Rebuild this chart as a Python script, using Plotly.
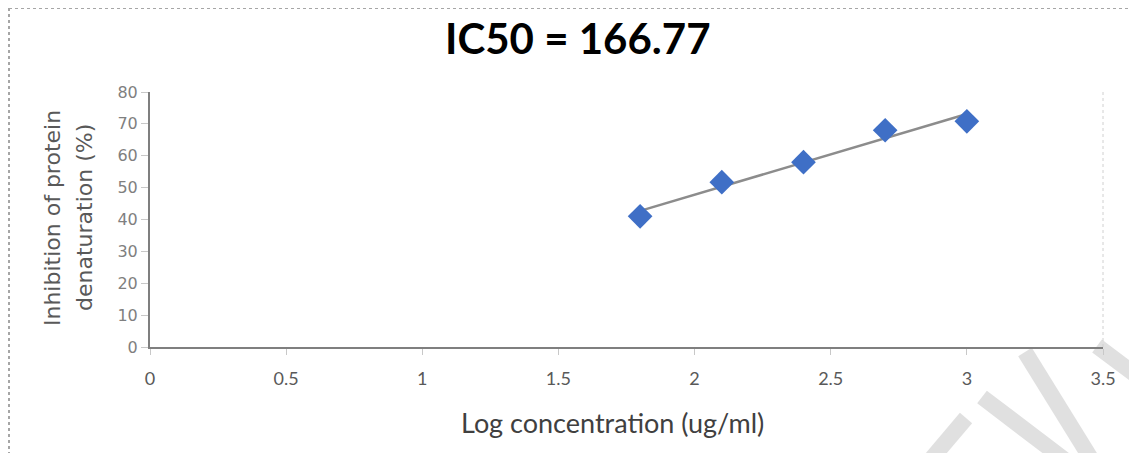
import numpy as np
import plotly.graph_objects as go

# ---- data ----
log_conc = [1.8, 2.1, 2.4, 2.7, 3.0]
inhibition = [41.0, 51.7, 58.0, 68.0, 70.8]
x_ticks = [0, 0.5, 1, 1.5, 2, 2.5, 3, 3.5]
x_tick_labels = ["0", "0.5", "1", "1.5", "2", "2.5", "3", "3.5"]
y_ticks = [0, 10, 20, 30, 40, 50, 60, 70, 80]
title_text = "IC50 = 166.77"
x_title = "Log concentration (ug/ml)"
y_title_lines = ["Inhibition of protein", "denaturation (%)"]

# linear trend line
slope, intercept = np.polyfit(log_conc, inhibition, 1)
trend_x = [min(log_conc), max(log_conc)]
trend_y = [slope * v + intercept for v in trend_x]

# page geometry (the page body adds an 8px margin around the figure)
OFF = 8
PW, PH = 1137, 461
L, R, T, B = 150, 1103, 92, 347  # plot area in page pixels
FW, FH = PW - 2 * OFF, PH - 2 * OFF


def px(x):
    return (x - L) / (R - L)


def py(y):
    return (B - y) / (B - T)


fig = go.Figure()
fig.add_trace(go.Scatter(x=trend_x, y=trend_y, mode="lines",
                         line=dict(color="#8c8c8c", width=2.5),
                         showlegend=False, hoverinfo="skip"))
fig.add_trace(go.Scatter(x=log_conc, y=inhibition, mode="markers",
                         marker=dict(symbol="diamond", size=19, color="#3f6fc6",
                                     line=dict(width=0)),
                         showlegend=False))

shapes = []
# outer chart border (dotted)
shapes.append(dict(type="line", xref="paper", yref="paper",
                   x0=px(9), x1=px(PW + 5), y0=py(8), y1=py(8),
                   line=dict(color="#a6a6a6", width=2, dash="dot")))
shapes.append(dict(type="line", xref="paper", yref="paper",
                   x0=px(9), x1=px(9), y0=py(8), y1=py(PH + 5),
                   line=dict(color="#a6a6a6", width=2, dash="dot")))
# plot area right border
shapes.append(dict(type="line", xref="paper", yref="paper",
                   x0=1, x1=1, y0=0, y1=1,
                   line=dict(color="#d0d0d0", width=1, dash="dot")))
# watermark stripes
stripes = [
    ((1025, 352), (1098, 470)),
    ((982, 397), (1078, 470)),
    ((1097, 346), (1145, 382)),
    ((966, 418), (922, 470)),
]
for (x0, y0), (x1, y1) in stripes:
    shapes.append(dict(type="line", xref="paper", yref="paper", layer="below",
                       x0=px(x0), y0=py(y0), x1=px(x1), y1=py(y1),
                       line=dict(color="#e0e0e0", width=16)))

annotations = [
    dict(text=title_text, xref="paper", yref="paper", x=px(578), y=py(38),
         showarrow=False, xanchor="center", yanchor="middle",
         font=dict(family="Lato", size=42, color="#000000", weight="bold")),
    dict(text=x_title, xref="paper", yref="paper", x=px(612), y=py(422),
         showarrow=False, xanchor="center", yanchor="middle",
         font=dict(family="Lato", size=27, color="#404040")),
    dict(text=y_title_lines[0], xref="paper", yref="paper", x=px(52), y=py(218),
         showarrow=False, textangle=-90, xanchor="center", yanchor="middle",
         font=dict(family="DejaVu Sans", size=22, color="#595959")),
    dict(text=y_title_lines[1], xref="paper", yref="paper", x=px(84), y=py(218),
         showarrow=False, textangle=-90, xanchor="center", yanchor="middle",
         font=dict(family="DejaVu Sans", size=22, color="#595959")),
]

fig.update_layout(
    width=FW, height=FH,
    margin=dict(l=L - OFF, r=(OFF + FW) - R, t=T - OFF, b=(OFF + FH) - B, pad=0),
    paper_bgcolor="white", plot_bgcolor="white",
    shapes=shapes, annotations=annotations,
    xaxis=dict(range=[0, 3.5], tickvals=x_ticks, ticktext=x_tick_labels,
               showgrid=False, zeroline=False, showline=True,
               linecolor="#7f7f7f", linewidth=2,
               ticks="outside", ticklen=6, tickcolor="#c8c8c8", tickwidth=1,
               ticklabelstandoff=8,
               tickfont=dict(family="Lato", size=18, color="#595959"),
               fixedrange=True),
    yaxis=dict(range=[0, 80], tickvals=y_ticks,
               showgrid=False, zeroline=False, showline=True,
               linecolor="#7f7f7f", linewidth=2,
               ticks="outside", ticklen=7, tickcolor="#c8c8c8", tickwidth=1,
               tickfont=dict(family="DejaVu Sans", size=16, color="#7f7f7f"),
               fixedrange=True),
)

fig.write_html("out.html")
